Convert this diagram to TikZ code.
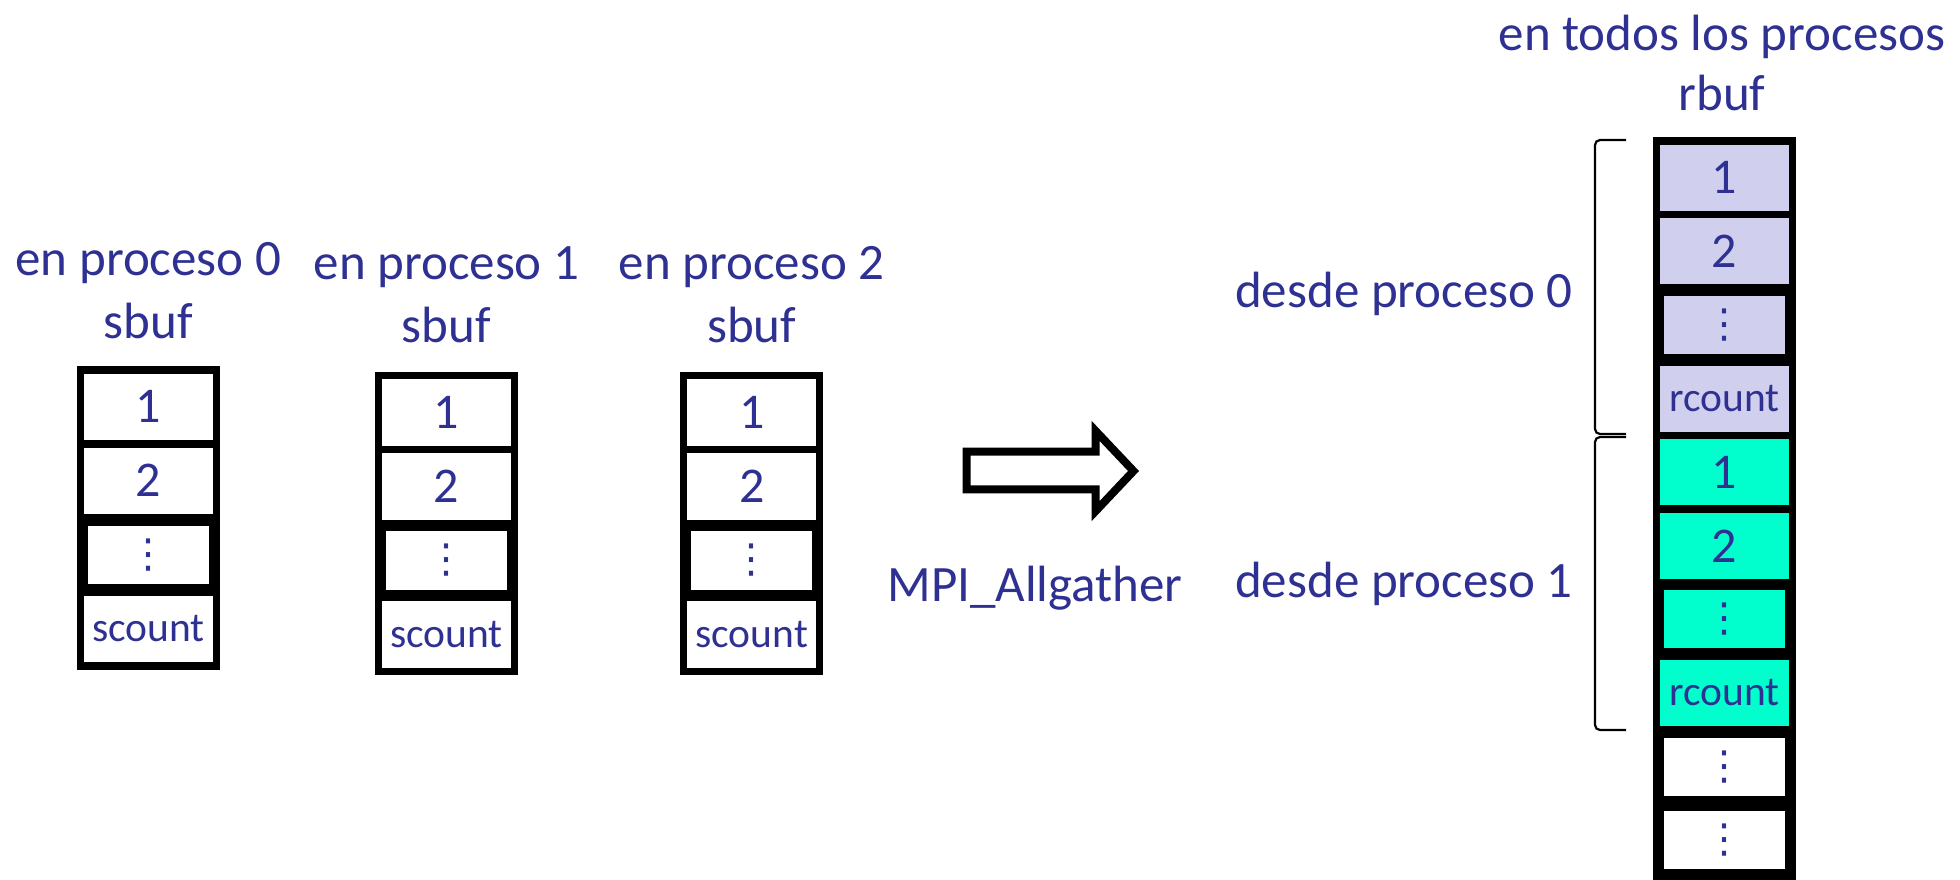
\documentclass[tikz,border=0pt]{standalone}
\usepackage{fontspec}
\setmainfont{Carlito}
\newfontfamily\symfont{DejaVu Sans}
\definecolor{ink}{RGB}{46,49,146}
\definecolor{lav}{RGB}{208,208,238}
\definecolor{aqua}{RGB}{0,255,204}
\tikzset{
  cell/.style={draw=black, fill=white, line width=7.5pt, outer sep=0pt,
    minimum width=136pt, minimum height=74pt, inner sep=0pt, text=ink,
    font=\fontsize{50}{52}\selectfont},
  dotcell/.style={cell, line width=11.5pt, minimum width=132pt, minimum height=70pt,
    font=\symfont\fontsize{40}{42}\selectfont},
  word/.style={font=\fontsize{41.5}{44}\selectfont},
  rcell/.style={cell, minimum height=73.6pt},
  rdotcell/.style={dotcell, minimum height=69.6pt},
  lbl/.style={text=ink, font=\fontsize{51}{54}\selectfont, anchor=base, inner sep=0pt},
  bracket/.style={draw=black, line width=2.2pt, rounded corners=5pt},
  bigarrow/.style={draw=black, fill=white, line width=8pt, line join=miter}
}
\begin{document}
\begin{tikzpicture}[x=1pt,y=-1pt]
\useasboundingbox (0,0) rectangle (1960,879);

% send buffers of the three processes
\foreach \i/\x/\y/\ly in {0/148.3/406.75/275, 1/446.5/412.45/279, 2/751.7/412.45/279} {
  \node[lbl] (p\i) at (\x,\ly) {en proceso \i};
  \node[lbl] (sb\i) at (\x,\ly+63) {sbuf};
  \node[cell] (s\i a) at (\x,\y) {1};
  \node[cell] (s\i b) at (\x,{\y+74}) {2};
  \node[cell, word] (s\i d) at (\x,{\y+222}) {scount};
  \node[dotcell] (s\i c) at (\x,{\y+148}) {⋮};
}

% operation
\draw[bigarrow] (966.7,451.7) -- (1095.7,451.7) -- (1095.7,431) -- (1133.5,471)
  -- (1095.7,511) -- (1095.7,489.3) -- (966.7,489.3) -- cycle;
\node[lbl] (op) at (1035,601) {MPI\_Allgather};

% receive buffer
\node[lbl] (rt) at (1722,50) {en todos los procesos};
\node[lbl] (rb) at (1722,110) {rbuf};
\node[rcell, fill=lav] (r1) at (1724.3,177.8) {1};
\node[rcell, fill=lav] (r2) at (1724.3,251.4) {2};
\node[rcell, fill=lav, word] (r4) at (1724.3,398.6) {rcount};
\node[rcell, fill=aqua] (r5) at (1724.3,472.2) {1};
\node[rcell, fill=aqua] (r6) at (1724.3,545.8) {2};
\node[rcell, fill=aqua, word] (r8) at (1724.3,693) {rcount};
\node[rdotcell, fill=lav] (r3) at (1724.3,325) {⋮};
\node[rdotcell, fill=aqua] (r7) at (1724.3,619.4) {⋮};
\node[rdotcell] (r9) at (1724.3,766.6) {⋮};
\node[rdotcell] (r10) at (1724.3,840.2) {⋮};

% groups by origin
\draw[bracket] (1626,140) -- (1595,140) -- (1595,434) -- (1626,434);
\draw[bracket] (1626,437) -- (1595,437) -- (1595,730) -- (1626,730);
\node[lbl] (g0) at (1404,307) {desde proceso 0};
\node[lbl] (g1) at (1404,597) {desde proceso 1};
\end{tikzpicture}
\end{document}
